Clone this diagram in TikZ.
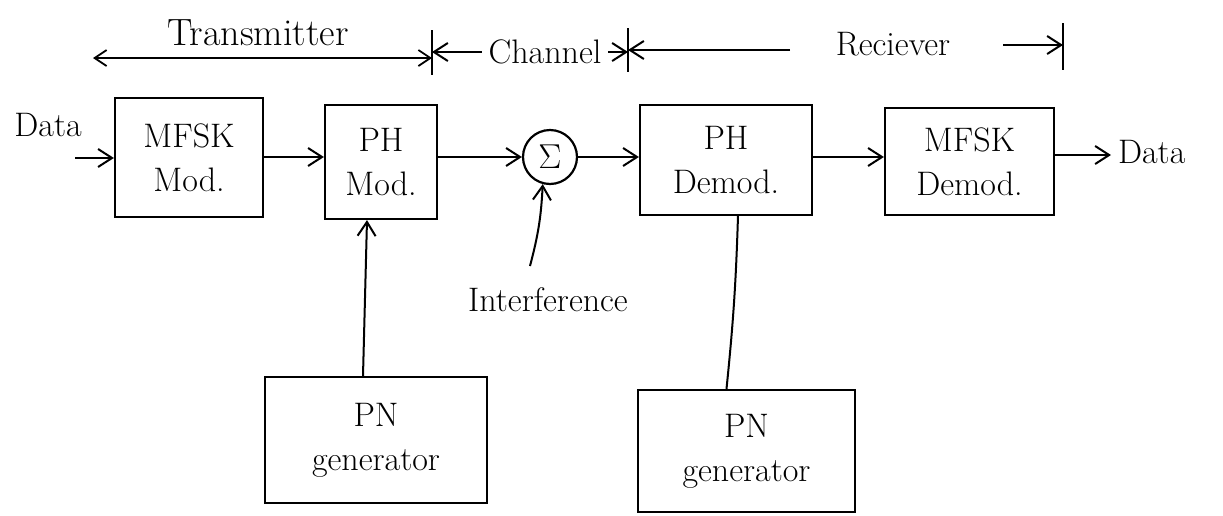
\documentclass[tikz,border=0pt]{standalone}
\usetikzlibrary{arrows.meta}
\begin{document}
\begin{tikzpicture}[x=0.5pt,y=-0.5pt,
  every node/.style={font=\fontsize{17}{22}\selectfont},
  block/.style={draw,line width=1.1pt,rectangle,align=center,inner sep=0pt},
  tip/.style={-{Straight Barb[length=7pt,width=9pt,line width=1pt]}},
  link/.style={line width=1pt,tip},
  wire/.style={line width=1pt},
  span/.style={line width=0.9pt,{Straight Barb[length=6pt,width=8pt,line width=0.9pt]}-{Straight Barb[length=6pt,width=8pt,line width=0.9pt]}},
  divider/.style={line width=0.9pt}]
\useasboundingbox (0,0) rectangle (1223,515);

% processing blocks
\node[block,minimum width=74pt,minimum height=59.5pt] (mfskmod) at (189,157.5) {MFSK\\Mod.};
\node[block,minimum width=56pt,minimum height=57pt] (phmod) at (381,162) {PH\\Mod.};
\node[draw,circle,line width=1.1pt,minimum size=27pt,inner sep=0pt] (sum) at (550,157) {$\Sigma$};
\node[block,minimum width=86pt,minimum height=55pt] (phdemod) at (726,160) {PH\\Demod.};
\node[block,minimum width=84.5pt,minimum height=53.5pt] (mfskdemod) at (969.5,161.5) {MFSK\\Demod.};
\node[block,minimum width=111pt,minimum height=63pt] (pn1) at (376,440) {PN\\generator};
\node[block,minimum width=108.5pt,minimum height=61pt] (pn2) at (746.5,451) {PN\\generator};

% free labels
\node (datain) at (48,125) {Data};
\node[anchor=west] (dataout) at (1111,152) {Data};
\node (intf) at (548,300) {Interference};
\node[font=\fontsize{19}{22}\selectfont] (txlabel) at (258,33) {Transmitter};
\node (chlabel) at (545,52) {Channel};
\node (rxlabel) at (893,44) {Reciever};

% section dividers
\coordinate (s1a) at (432,30); \coordinate (s1b) at (432,75);
\coordinate (s2a) at (628,28); \coordinate (s2b) at (628,72);
\coordinate (s3a) at (1063,23); \coordinate (s3b) at (1063,70);
\draw[divider] (s1a) -- (s1b);
\draw[divider] (s2a) -- (s2b);
\draw[divider] (s3a) -- (s3b);

% section extents
\coordinate (txend) at (93,58);
\draw[span] (txend) -- (s1a |- txend);
\draw[line width=0.9pt,tip] (chlabel.west) -- (s1a |- chlabel.west);
\draw[line width=0.9pt,tip] (chlabel.east) -- (s2a |- chlabel.east);
\coordinate (rxline) at (790,50);
\draw[line width=0.9pt,tip] (rxline) -- (s2a |- rxline);
\coordinate (rxarrow) at (1003,45);
\draw[line width=0.9pt,tip] (rxarrow) -- (s3a |- rxarrow);

% signal path
\coordinate (din) at (75,158);
\draw[link] (din) -- (mfskmod.west |- din);
\draw[link] (mfskmod.east |- sum.west) -- (phmod.west |- sum.west);
\draw[link] (phmod.east |- sum.west) -- (sum.west);
\draw[link] (sum.east) -- (phdemod.west |- sum.east);
\draw[link] (phdemod.east |- sum.east) -- (mfskdemod.west |- sum.east);
\draw[link] (mfskdemod.east |- 0,155) -- (dataout.west |- 0,155);

% interference into the summer
\coordinate (ifrom) at (530,266);
\draw[link] (ifrom) to[bend right=6] (sum.255);

% spreading codes
\draw[link] ([xshift=-6.5pt]pn1.north) -- ([xshift=-7pt]phmod.south);
\draw[wire] ([xshift=6pt]phdemod.south) to[bend left=2] ([xshift=-10pt]pn2.north);
\end{tikzpicture}
\end{document}
